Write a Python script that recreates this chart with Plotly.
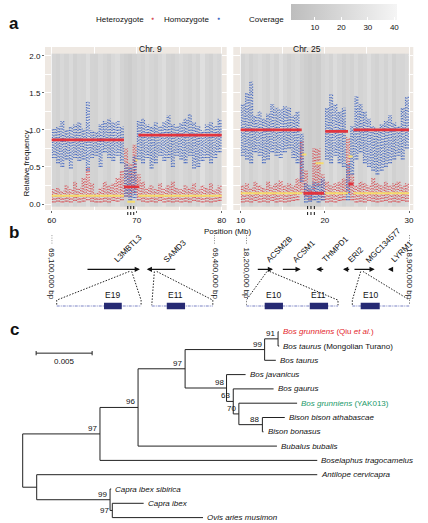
import plotly.graph_objects as go

W, H = 428, 523
FONT = "Liberation Sans, Arial, sans-serif"


def fx(p):
    return p / W


def fy(p):
    return 1 - p / H


# ---------------- panel a: relative frequency along chr 9 and chr 25 ----------------
chr9_pos = [60.25, 60.75, 61.25, 61.75, 62.25, 62.75, 63.25, 63.75, 64.25, 64.75,
            65.25, 65.75, 66.25, 66.75, 67.25, 67.75, 68.25, 68.75, 69.25, 69.75,
            70.25, 70.75, 71.25, 71.75, 72.25, 72.75, 73.25, 73.75, 74.25, 74.75,
            75.25, 75.75, 76.25, 76.75, 77.25, 77.75, 78.25, 78.75, 79.25, 79.75]
chr9_cov = [18, 16, 20, 17, 22, 15, 19, 18, 24, 17, 16, 21, 18, 15, 20, 23, 17, 14, 12, 16,
            19, 17, 21, 18, 16, 20, 24, 17, 15, 19, 22, 18, 16, 20, 17, 25, 18, 16, 21, 19]
chr9_hom_lo = [0.62, 0.55, 0.50, 0.60, 0.48, 0.62, 0.58, 0.60, 0.45, 0.62,
               0.65, 0.50, 0.70, 0.62, 0.58, 0.65, 0.55, 0.10, 0.05, 0.08,
               0.60, 0.55, 0.62, 0.48, 0.55, 0.65, 0.58, 0.62, 0.50, 0.65,
               0.60, 0.55, 0.65, 0.48, 0.50, 0.58, 0.62, 0.55, 0.62, 0.70]
chr9_hom_hi = [1.02, 1.05, 1.12, 1.00, 1.05, 1.08, 1.10, 1.02, 1.38, 1.00,
               0.98, 1.08, 1.12, 1.15, 1.10, 1.12, 1.05, 0.55, 0.50, 0.65,
               1.12, 1.15, 1.08, 1.05, 1.10, 1.05, 1.12, 1.20, 1.08, 1.05,
               1.10, 1.15, 1.22, 1.10, 1.05, 1.00, 1.08, 1.10, 1.05, 1.15]
chr9_het_lo = [0.02, 0.03, 0.02, 0.03, 0.02, 0.04, 0.02, 0.03, 0.05, 0.03,
               0.02, 0.02, 0.03, 0.02, 0.04, 0.03, 0.05, 0.10, 0.10, 0.15,
               0.05, 0.03, 0.02, 0.03, 0.02, 0.04, 0.02, 0.03, 0.02, 0.03,
               0.02, 0.03, 0.02, 0.04, 0.03, 0.02, 0.03, 0.02, 0.03, 0.04]
chr9_het_hi = [0.20, 0.22, 0.18, 0.25, 0.20, 0.30, 0.22, 0.35, 0.50, 0.28,
               0.15, 0.22, 0.30, 0.25, 0.28, 0.35, 0.45, 0.75, 0.55, 0.80,
               0.40, 0.30, 0.22, 0.25, 0.20, 0.28, 0.22, 0.25, 0.30, 0.22,
               0.20, 0.25, 0.22, 0.28, 0.20, 0.25, 0.22, 0.28, 0.20, 0.25]
chr9_hom_seg_start = [60.0, 68.5, 70.2]
chr9_hom_seg_end = [68.5, 70.3, 80.0]
chr9_hom_seg_val = [0.865, 0.23, 0.93]
chr9_het_seg_start = [60.0, 68.9, 69.85, 70.2]
chr9_het_seg_end = [68.5, 69.8, 70.1, 80.0]
chr9_het_seg_val = [0.11, 0.03, 0.59, 0.11]
chr9_marks = [68.95, 69.3, 69.65]

chr25_pos = [10.25, 10.75, 11.25, 11.75, 12.25, 12.75, 13.25, 13.75, 14.25, 14.75,
             15.25, 15.75, 16.25, 16.75, 17.25, 17.75, 18.25, 18.75, 19.25, 19.75,
             20.25, 20.75, 21.25, 21.75, 22.25, 22.75, 23.25, 23.75, 24.25, 24.75,
             25.25, 25.75, 26.25, 26.75, 27.25, 27.75, 28.25, 28.75, 29.25, 29.75]
chr25_cov = [17, 20, 15, 19, 22, 18, 16, 21, 17, 24, 19, 15, 18, 20, 16, 13, 11, 14, 12, 18,
             20, 17, 23, 19, 15, 18, 16, 21, 17, 19, 24, 18, 16, 20, 17, 22, 15, 19, 18, 21]
chr25_hom_lo = [0.65, 0.60, 0.55, 0.70, 0.65, 0.55, 0.60, 0.70, 0.65, 0.62,
                0.70, 0.75, 0.62, 0.55, 0.30, 0.02, 0.03, 0.05, 0.02, 0.05,
                0.60, 0.55, 0.65, 0.55, 0.50, 0.05, 0.40, 0.60, 0.70, 0.55,
                0.50, 0.45, 0.40, 0.45, 0.50, 0.55, 0.60, 0.65, 0.60, 0.75]
chr25_hom_hi = [1.35, 1.50, 1.65, 1.20, 1.25, 1.15, 1.22, 1.35, 1.30, 1.28,
                1.32, 1.30, 1.20, 1.25, 0.95, 0.28, 0.25, 0.30, 0.28, 0.35,
                1.30, 1.48, 1.35, 1.25, 1.30, 0.55, 1.05, 1.45, 1.35, 1.25,
                1.15, 1.05, 1.00, 1.08, 1.12, 1.20, 1.10, 1.05, 1.30, 1.45]
chr25_het_lo = [0.02, 0.03, 0.02, 0.04, 0.02, 0.03, 0.02, 0.04, 0.02, 0.03,
                0.02, 0.03, 0.04, 0.05, 0.15, 0.10, 0.05, 0.20, 0.25, 0.05,
                0.02, 0.03, 0.02, 0.04, 0.05, 0.15, 0.05, 0.02, 0.03, 0.02,
                0.04, 0.03, 0.02, 0.03, 0.04, 0.02, 0.03, 0.02, 0.04, 0.03]
chr25_het_hi = [0.25, 0.28, 0.22, 0.30, 0.25, 0.22, 0.30, 0.25, 0.28, 0.32,
                0.25, 0.28, 0.25, 0.35, 0.85, 0.45, 0.20, 0.75, 0.75, 0.40,
                0.30, 0.25, 0.28, 0.30, 0.35, 0.90, 0.40, 0.25, 0.30, 0.28,
                0.25, 0.35, 0.28, 0.25, 0.30, 0.25, 0.28, 0.30, 0.25, 0.28]
chr25_hom_seg_start = [10.0, 17.45, 20.05, 22.8, 23.4]
chr25_hom_seg_end = [17.25, 19.9, 22.75, 23.4, 30.0]
chr25_hom_seg_val = [1.0, 0.145, 0.98, 0.27, 1.0]
chr25_het_seg_start = [10.0, 17.3, 18.9, 20.05, 22.8, 23.4]
chr25_het_seg_end = [17.3, 17.8, 19.85, 22.75, 23.3, 30.0]
chr25_het_seg_val = [0.145, 0.67, 0.55, 0.145, 0.64, 0.145]
chr25_marks = [17.95, 18.35, 18.75]

# ---------------- panel b: genes in the two regions ----------------
chr9_region = [69_100_000, 69_400_000]
chr9_gene_names = ["L3MBTL3", "SAMD3"]
chr9_gene_start = [69_163_000, 69_274_600]
chr9_gene_end = [69_262_000, 69_329_800]
chr9_gene_strand = [1, -1]
chr9_inset_src_lo = [69_242_600, 69_288_600]
chr9_inset_src_hi = [69_247_000, 69_293_000]
chr9_inset_lo = [69_109_200, 69_283_800]
chr9_inset_hi = [69_264_200, 69_396_000]
chr9_exon_names = ["E19", "E11"]
chr9_exon_start = [69_196_100, 69_311_400]
chr9_exon_end = [69_228_700, 69_345_000]

chr25_region = [18_200_000, 18_900_000]
chr25_gene_names = ["ACSM2B", "ACSM1", "THMPD1", "ERI2", "MGC134577", "LYRM1"]
chr25_gene_start = [18_242_800, 18_350_000, 18_500_000, 18_614_300, 18_657_000, 18_806_800]
chr25_gene_end = [18_314_400, 18_433_000, 18_536_000, 18_647_300, 18_750_000, 18_821_000]
chr25_gene_strand = [1, 1, -1, -1, 1, -1]
chr25_inset_src_lo = [18_288_700, 18_690_100]
chr25_inset_src_hi = [18_300_300, 18_700_000]
chr25_inset_lo = [18_200_000, 18_654_200]
chr25_inset_hi = [18_592_900, 18_900_000]
chr25_exon_names = ["E10", "E11", "E10"]
chr25_exon_start = [18_278_800, 18_471_900, 18_690_100]
chr25_exon_end = [18_357_100, 18_550_300, 18_771_600]

# ---------------- panel c: phylogenetic tree ----------------
tip_labels = ["<i>Bos grunniens</i> (Qiu <i>et al.</i>)",
              "<i>Bos taurus</i> (Mongolian Turano)",
              "<i>Bos taurus</i>", "<i>Bos javanicus</i>", "<i>Bos gaurus</i>",
              "<i>Bos grunniens</i> (YAK013)",
              "<i>Bison bison athabascae</i>", "<i>Bison bonasus</i>",
              "<i>Bubalus bubalis</i>", "<i>Boselaphus tragocamelus</i>",
              "<i>Antilope cervicapra</i>", "<i>Capra ibex sibirica</i>",
              "<i>Capra ibex</i>", "<i>Ovis aries musimon</i>"]
tip_colors = ["#e3262b", "#111", "#111", "#111", "#111", "#1b9a6a", "#111",
              "#111", "#111", "#111", "#111", "#111", "#111", "#111"]
tip_depth = [0.02285, 0.0229, 0.0226, 0.0199, 0.0224, 0.0245, 0.0234,
             0.0215, 0.0227, 0.0263, 0.0263, 0.0079, 0.0108, 0.0161]
tip_parent = ["n91", "n91", "n99", "n98", "n63", "n70", "n88", "n88",
              "n96", "n97a", "nLow", "n99c", "n97c", "n97c"]
node_names = ["root", "n97a", "n96", "n97b", "n99", "n91", "n98", "n63",
              "n70", "n88", "nLow", "n99c", "n97c"]
node_parent = [None, "root", "n97a", "n96", "n97b", "n99", "n97b", "n98",
               "n63", "n70", "root", "nLow", "n99c"]
node_depth = [0.0, 0.0069, 0.0103, 0.0145, 0.0216, 0.0228, 0.0182, 0.0188,
              0.0193, 0.0214, 0.00125, 0.0078, 0.0080]
node_support = ["", "97", "96", "97", "99", "91", "98", "63", "70", "88", "", "99", "97"]
scale_length = 0.005

fig = go.Figure()
annotations = []
shapes = []

RED_DOT = "#d9545a"
BLUE_DOT = "#4669c2"
RED_LINE = "#e2343d"
YELLOW_LINE = "#f6dc6c"


def cloud(pos, lo, hi, color, xa, ya):
    # three dotted strokes per bin, each with its own dot rhythm
    traces = []
    for off, dash in ((-0.16, "1.2px,1.3px"), (0.0, "1.2px,1.9px"), (0.16, "1.2px,1.6px")):
        xs, ys = [], []
        for p, a, b in zip(pos, lo, hi):
            xs += [p + off, p + off, None]
            ys += [a, b, None]
        traces.append(go.Scatter(x=xs, y=ys, mode="lines", xaxis=xa, yaxis=ya,
                                 line=dict(color=color, width=1.2, dash=dash),
                                 opacity=0.95, hoverinfo="skip", showlegend=False))
    return traces


def segs(start, end, val, color, width, xa, ya):
    xs, ys = [], []
    for s, e, v in zip(start, end, val):
        xs += [s, e, None]
        ys += [v, v, None]
    return go.Scatter(x=xs, y=ys, mode="lines", xaxis=xa, yaxis=ya,
                      line=dict(color=color, width=width),
                      hoverinfo="skip", showlegend=False)


cov_scale = [[0, "#bdbdbd"], [1, "#f5f5f5"]]
panels_a = [
    ("x", "y", chr9_pos, chr9_cov, chr9_hom_lo, chr9_hom_hi, chr9_het_lo, chr9_het_hi,
     (chr9_hom_seg_start, chr9_hom_seg_end, chr9_hom_seg_val),
     (chr9_het_seg_start, chr9_het_seg_end, chr9_het_seg_val), chr9_marks),
    ("x2", "y2", chr25_pos, chr25_cov, chr25_hom_lo, chr25_hom_hi, chr25_het_lo, chr25_het_hi,
     (chr25_hom_seg_start, chr25_hom_seg_end, chr25_hom_seg_val),
     (chr25_het_seg_start, chr25_het_seg_end, chr25_het_seg_val), chr25_marks),
]
for k, (xa, ya, pos, cov, hlo, hhi, tlo, thi, hom_seg, het_seg, marks) in enumerate(panels_a):
    fig.add_trace(go.Heatmap(
        x=pos, y=[-0.03, 2.03], z=[cov], xaxis=xa, yaxis=ya,
        colorscale=cov_scale, zmin=1, zmax=41, hoverinfo="skip",
        showscale=(k == 0),
        colorbar=dict(orientation="h", x=fx(291), xanchor="left", y=fy(4), yanchor="top",
                      len=106 / W, lenmode="fraction", thickness=16, thicknessmode="pixels",
                      xpad=0, ypad=0, outlinewidth=0, tickvals=[10, 20, 30, 40],
                      ticks="inside", ticklen=3, tickcolor="white",
                      tickfont=dict(size=8, color="#111", family=FONT))))
    fig.add_traces(cloud(pos, tlo, thi, RED_DOT, xa, ya))
    fig.add_traces(cloud(pos, hlo, hhi, BLUE_DOT, xa, ya))
    fig.add_trace(segs(*het_seg, YELLOW_LINE, 2.0, xa, ya))
    fig.add_trace(segs(*hom_seg, RED_LINE, 2.8, xa, ya))
    shapes.append(dict(type="rect", xref=xa + " domain", yref=ya + " domain",
                       x0=0, x1=1, y0=0, y1=1, fillcolor="#eee8e2",
                       line=dict(width=0), layer="below"))
    for m in marks:
        shapes.append(dict(type="line", xref=xa, yref="paper", x0=m, x1=m,
                           y0=fy(206), y1=fy(217),
                           line=dict(color="#111", width=1, dash="dot")))

axis_a = dict(showline=False, zeroline=False, gridcolor="white", gridwidth=1.1,
              ticks="outside", ticklen=2, tickcolor="#666",
              tickfont=dict(size=8, color="#111", family=FONT))
fig.update_layout(
    xaxis=dict(axis_a, domain=[fx(45), fx(226.7)], range=[59.21, 80.59], anchor="y",
               tick0=0, dtick=10, minor=dict(dtick=5, showgrid=True, gridcolor="white", gridwidth=0.5)),
    xaxis2=dict(axis_a, domain=[fx(233.3), fx(413.3)], range=[9.12, 30.51], anchor="y2",
                tick0=0, dtick=10, minor=dict(dtick=5, showgrid=True, gridcolor="white", gridwidth=0.5)),
    yaxis=dict(axis_a, domain=[fy(210), fy(47)], range=[-0.081, 2.12], anchor="x",
               tickvals=[0, 0.5, 1, 1.5, 2], ticktext=["0.0", "0.5", "1.0", "1.5", "2.0"],
               minor=dict(dtick=0.25, showgrid=True, gridcolor="white", gridwidth=0.5)),
    yaxis2=dict(axis_a, domain=[fy(210), fy(47)], range=[-0.081, 2.12], anchor="x2",
                showticklabels=False, ticks="", tickvals=[0, 0.5, 1, 1.5, 2],
                minor=dict(dtick=0.25, showgrid=True, gridcolor="white", gridwidth=0.5)),
)


def note(text, x, y, size=8, **kw):
    d = dict(text=text, x=x, y=y, xref=kw.pop("xref", "paper"), yref=kw.pop("yref", "paper"),
             showarrow=False, font=dict(size=size, color=kw.pop("color", "#111"), family=FONT))
    d.update(kw)
    annotations.append(d)


note("<b>a</b>", fx(7), fy(12), size=17, xanchor="left")
note("<b>b</b>", fx(7), fy(232), size=17, xanchor="left")
note("<b>c</b>", fx(8), fy(329), size=17, xanchor="left")
note("Heterozygote", fx(146), fy(13), xanchor="right")
note("●", fx(152), fy(13), size=5, color=RED_DOT)
note("Homozygote", fx(211), fy(13), xanchor="right")
note("●", fx(218), fy(13), size=5, color=BLUE_DOT)
note("Coverage", fx(286), fy(13), xanchor="right")
note("Chr. 9", fx(137), fy(42), size=8.5)
note("Chr. 25", fx(323), fy(42), size=8.5)
note("Relative frequency", fx(19), fy(129), textangle=-90)
note("Position (Mb)", fx(227), fy(231))

# ---------------- panel b drawing ----------------
panels_b = [
    ("x3", "y3", chr9_region, chr9_gene_names, chr9_gene_start, chr9_gene_end, chr9_gene_strand,
     chr9_inset_src_lo, chr9_inset_src_hi, chr9_inset_lo, chr9_inset_hi,
     chr9_exon_names, chr9_exon_start, chr9_exon_end),
    ("x4", "y4", chr25_region, chr25_gene_names, chr25_gene_start, chr25_gene_end, chr25_gene_strand,
     chr25_inset_src_lo, chr25_inset_src_hi, chr25_inset_lo, chr25_inset_hi,
     chr25_exon_names, chr25_exon_start, chr25_exon_end),
]
for (xa, ya, region, gnames, gstart, gend, gstrand, slo, shi, ilo, ihi,
     enames, estart, eend) in panels_b:
    # region borders
    for r in region:
        fig.add_trace(go.Scatter(x=[r, r], y=[1.93, 1.70], mode="lines", xaxis=xa, yaxis=ya,
                                 line=dict(color="#111", width=1, dash="1px,1.5px"),
                                 hoverinfo="skip", showlegend=False))
        note(f"{r:,} bp", r, 0.88, xref=xa, yref=ya, textangle=90)
    # genes as arrows
    for name, s, e, st in zip(gnames, gstart, gend, gstrand):
        head, tail = (e, s) if st > 0 else (s, e)
        annotations.append(dict(x=head, y=1, ax=tail, ay=1, xref=xa, yref=ya, axref=xa, ayref=ya,
                                text="", showarrow=True, arrowhead=2, arrowsize=0.8,
                                arrowwidth=1.3, arrowcolor="#111"))
        note(name, (s + e) / 2, 1, xref=xa, yref=ya, textangle=-45,
             xanchor="left", yanchor="bottom", xshift=-3, yshift=2)
    # exon insets
    for a, b, lo, hi in zip(slo, shi, ilo, ihi):
        fig.add_trace(go.Scatter(x=[a, lo, lo, None, b, hi, hi], y=[0.94, 0.16, 0.02, None, 0.94, 0.16, 0.02],
                                 mode="lines", xaxis=xa, yaxis=ya,
                                 line=dict(color="#222", width=1, dash="1.5px,1.5px"),
                                 hoverinfo="skip", showlegend=False))
        fig.add_trace(go.Scatter(x=[lo, hi], y=[0, 0], mode="lines", xaxis=xa, yaxis=ya,
                                 line=dict(color="#a7acd8", width=1.6, dash="3px,1px,1px,1px"),
                                 hoverinfo="skip", showlegend=False))
    for name, s, e in zip(enames, estart, eend):
        shapes.append(dict(type="rect", xref=xa, yref=ya, x0=s, x1=e, y0=-0.09, y1=0.09,
                           fillcolor="#262a73", line=dict(width=0)))
        note(name, (s + e) / 2, 0.1, xref=xa, yref=ya, yanchor="bottom", size=8.5)

axis_b = dict(visible=False)
fig.update_layout(
    xaxis3=dict(axis_b, domain=[fx(51.7), fx(215)], range=chr9_region, anchor="y3"),
    yaxis3=dict(axis_b, domain=[fy(315), fy(230)], range=[-0.245, 2.07], anchor="x3"),
    xaxis4=dict(axis_b, domain=[fx(246.3), fx(409.7)], range=chr25_region, anchor="y4"),
    yaxis4=dict(axis_b, domain=[fy(315), fy(230)], range=[-0.245, 2.07], anchor="x4"),
)

# ---------------- panel c drawing ----------------
depth = dict(zip(node_names, node_depth))
children = {n: [] for n in node_names}
for i, p in enumerate(tip_parent):
    children[p].append(("tip", i))
for n, p in zip(node_names, node_parent):
    if p:
        children[p].append(("node", n))
ypos = {}


def node_y(n):
    ys = [c if kind == "tip" else node_y(c) for kind, c in children[n]]
    ypos[n] = sum(ys) / len(ys)
    return ypos[n]


node_y("root")
tx, ty = [], []
for n in node_names:
    kids = []
    for kind, c in children[n]:
        if kind == "tip":
            kids.append((tip_depth[c], c))
        else:
            kids.append((depth[c], ypos[c]))
    ys = [k[1] for k in kids]
    tx += [depth[n], depth[n], None]
    ty += [min(ys), max(ys), None]
    for cd, cy in kids:
        tx += [depth[n], cd, None]
        ty += [cy, cy, None]
fig.add_trace(go.Scatter(x=tx, y=ty, mode="lines", xaxis="x5", yaxis="y5",
                         line=dict(color="#222", width=1), hoverinfo="skip", showlegend=False))
for i, (lab, col) in enumerate(zip(tip_labels, tip_colors)):
    note(lab, tip_depth[i], i, xref="x5", yref="y5", xanchor="left", xshift=2, color=col)
for n, s in zip(node_names, node_support):
    if s:
        note(s, depth[n], ypos[n], xref="x5", yref="y5", xanchor="right",
             yanchor="middle" if n == "n97c" else "bottom", xshift=-1, yshift=0 if n == "n97c" else -1)

# scale bar
sb_x0, sb_y = 0.0012, 1.5
fig.add_trace(go.Scatter(x=[sb_x0, sb_x0, None, sb_x0, sb_x0 + scale_length, None,
                            sb_x0 + scale_length, sb_x0 + scale_length],
                         y=[sb_y - 0.15, sb_y + 0.15, None, sb_y, sb_y, None, sb_y - 0.15, sb_y + 0.15],
                         mode="lines", xaxis="x5", yaxis="y5",
                         line=dict(color="#222", width=1), hoverinfo="skip", showlegend=False))
note(f"{scale_length}", sb_x0 + scale_length / 2, sb_y, xref="x5", yref="y5", yanchor="top", yshift=-2)

k = scale_length / 56
fig.update_layout(
    xaxis5=dict(visible=False, domain=[0, 1], range=[-22.7 * k, (W - 22.7) * k], anchor="y5"),
    yaxis5=dict(visible=False, domain=[0, fy(325)],
                range=[(523 - 331.7) / 14.3, -(331.7 - 325) / 14.3], anchor="x5"),
)

fig.update_layout(
    width=W, height=H, margin=dict(l=0, r=0, t=0, b=0),
    paper_bgcolor="white", plot_bgcolor="white",
    font=dict(family=FONT, size=8, color="#111"),
    annotations=annotations, shapes=shapes, showlegend=False,
)
fig.write_html("out.html", config={"displayModeBar": False},
               post_script="document.body.style.margin='0';document.body.style.overflow='hidden';")
